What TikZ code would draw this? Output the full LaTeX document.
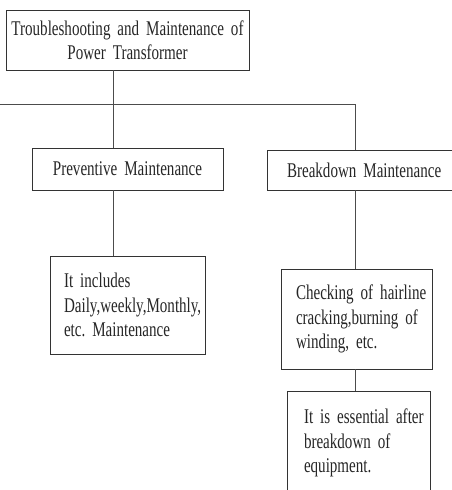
\documentclass[tikz,border=0pt]{standalone}
\usepackage{fontspec}
\newfontfamily\tnr[FakeStretch=0.72]{Liberation Serif}
\newcommand{\boxfont}{\tnr\fontsize{21}{24.5}\selectfont\fontdimen2\font=3.6pt\fontdimen3\font=0pt\fontdimen4\font=0pt\frenchspacing}
\begin{document}
\begin{tikzpicture}[x=1bp,y=-1bp,
  box/.style={draw=black!80, line width=0.9pt, inner ysep=0pt, font=\boxfont, text=black!85},
  cbox/.style={box, align=center},
  lbox/.style={box, align=left},
  conn/.style={draw=black!70, line width=0.9pt}]
\useasboundingbox (0,0) rectangle (452,490);
\clip (0,0) rectangle (452,490);
\node[cbox, minimum width=243bp, minimum height=60bp, text width=235bp, inner xsep=4bp] (top) at (127.5,40) {\mbox{Troubleshooting and Maintenance of}\\\mbox{Power Transformer}};
\node[cbox, minimum width=191bp, minimum height=42bp, text width=183bp, inner xsep=4bp] (prev) at (127.5,169) {\mbox{Preventive Maintenance}};
\node[lbox, minimum height=40bp, text width=156bp, inner xsep=20bp] (brk) at (365,170) {\mbox{Breakdown Maintenance}};
\node[lbox, minimum height=98bp, text width=127bp, inner xsep=14bp] (inc) at (127.5,305) {\mbox{It includes}\\\mbox{Daily,weekly,Monthly,}\\\mbox{etc. Maintenance}};
\node[lbox, minimum height=100bp, text width=121bp, inner xsep=15bp] (chk) at (356.5,319) {\mbox{Checking of hairline}\\\mbox{cracking,burning of}\\\mbox{winding, etc.}};
\node[lbox, minimum height=103bp, text width=109bp, inner xsep=17bp] (ess) at (358.5,443) {\mbox{It is essential after}\\\mbox{breakdown of}\\\mbox{equipment.}};
\coordinate (hl) at (-5,104);
\coordinate (ax) at (113,104);
\coordinate (bx) at (355,104);
\draw[conn] (top.south -| ax) -- (prev.north -| ax);
\draw[conn] (hl) -- (bx) -- (brk.north -| bx);
\draw[conn] (prev.south -| ax) -- (inc.north -| ax);
\draw[conn] (brk.south -| bx) -- (chk.north -| bx);
\draw[conn] (chk.south -| bx) -- (ess.north -| bx);
\end{tikzpicture}
\end{document}
